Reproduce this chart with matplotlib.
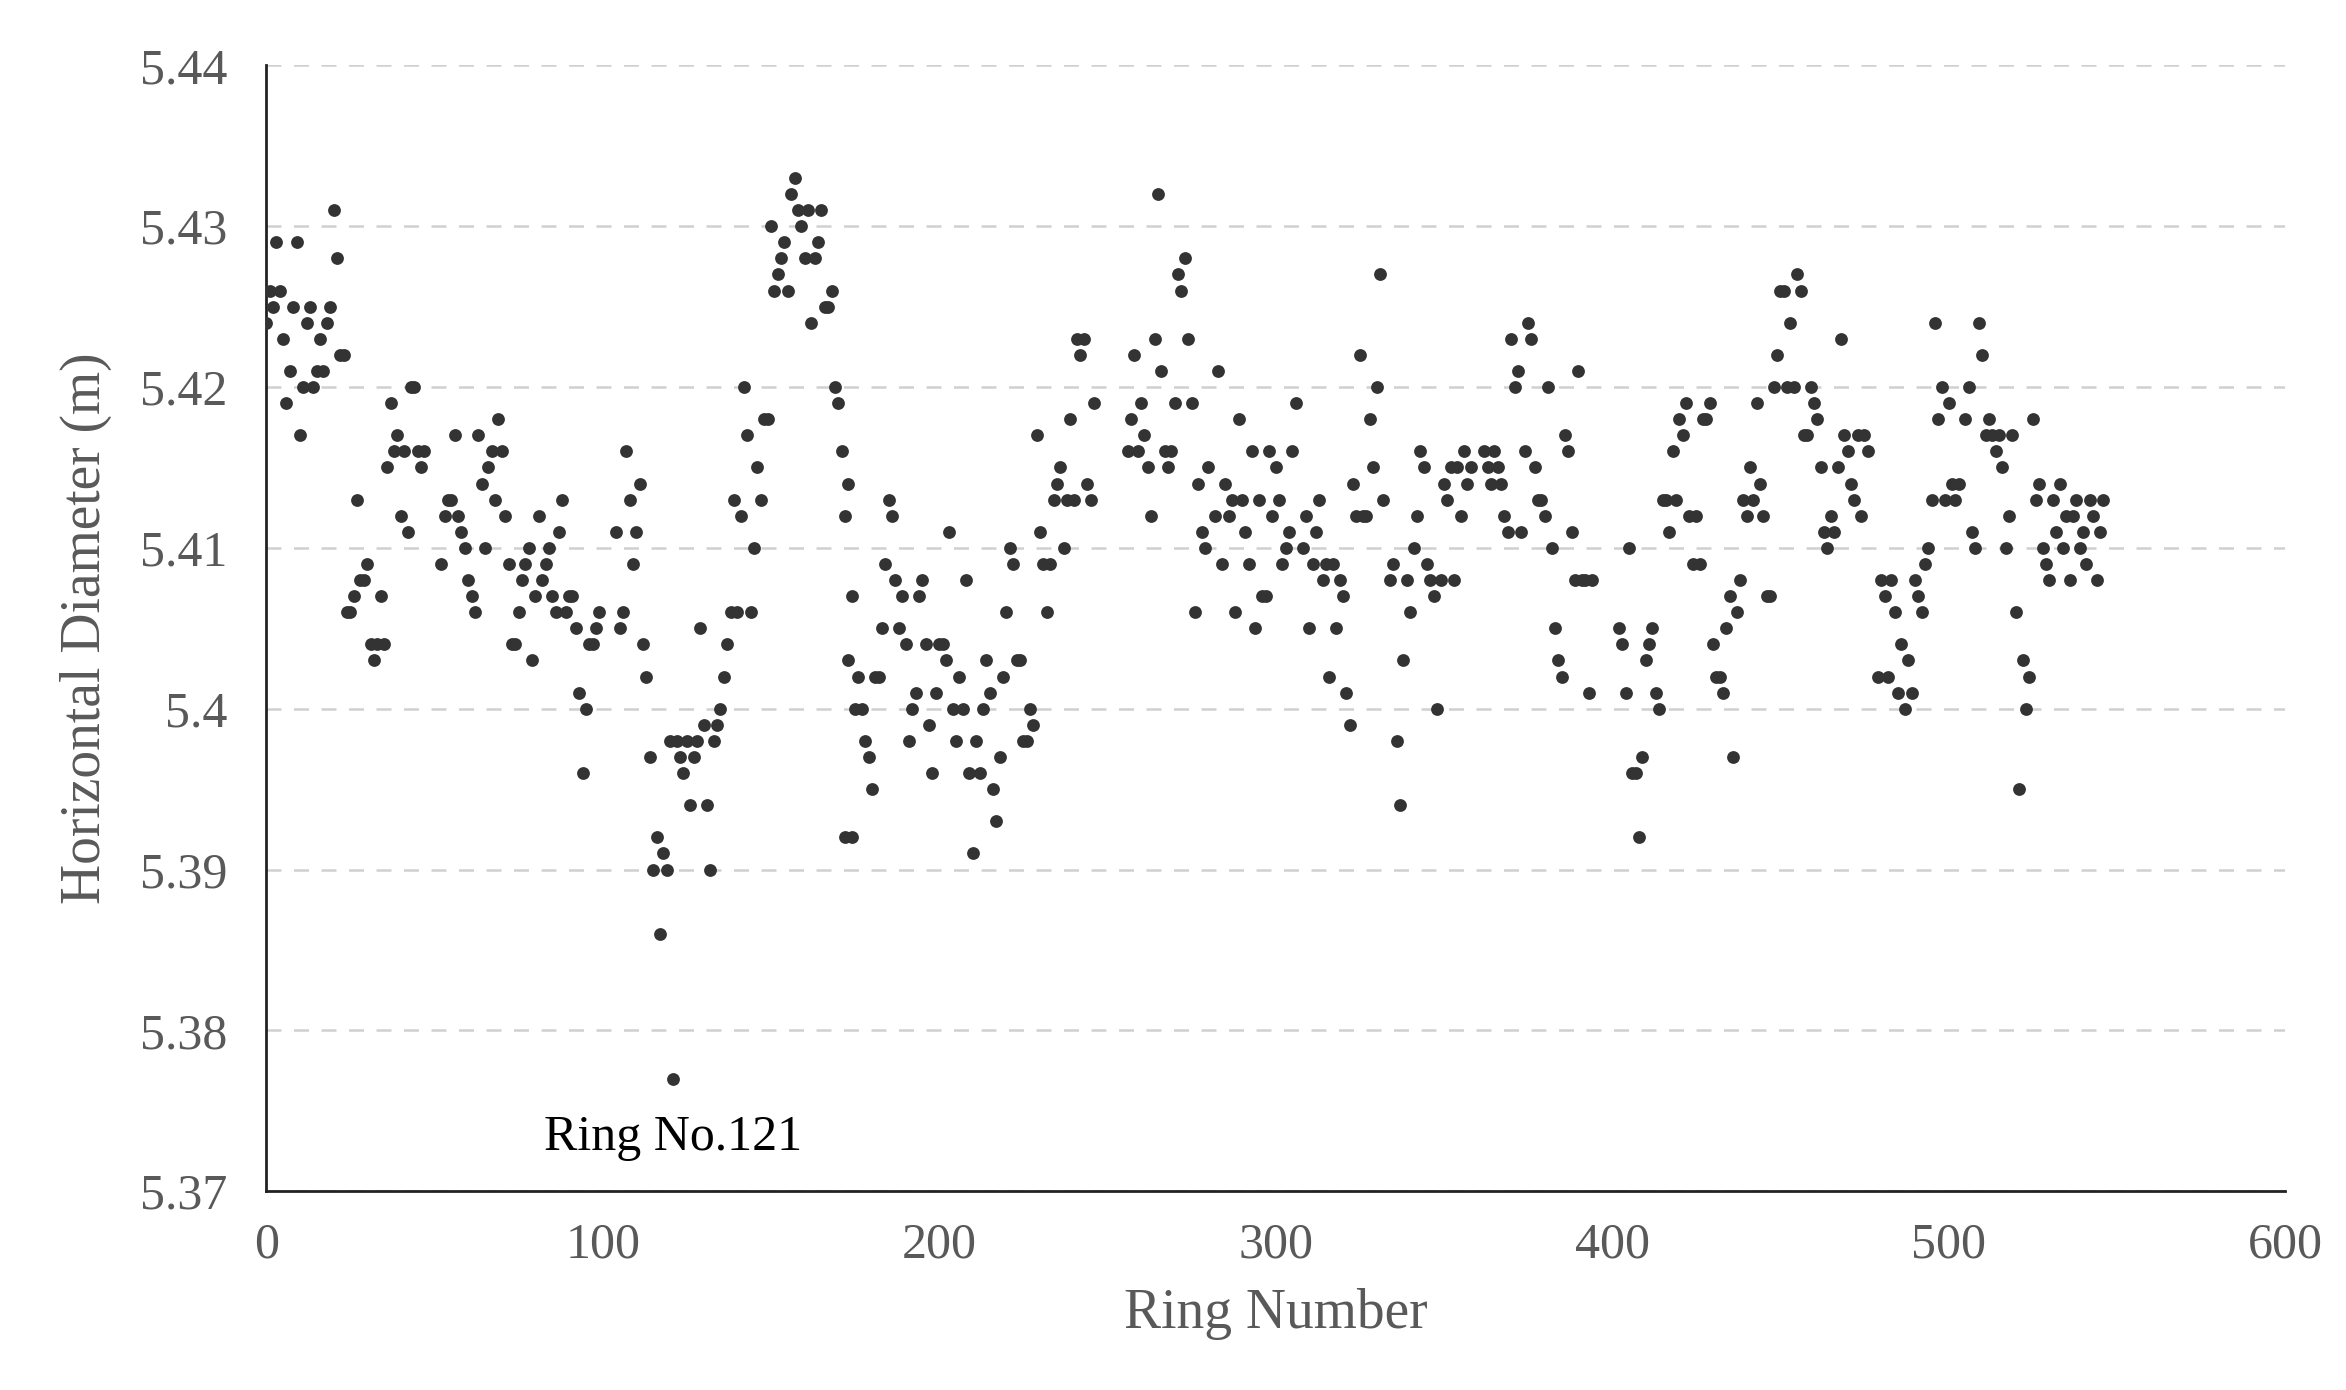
import matplotlib
import numpy as np

matplotlib.use("Agg")
import matplotlib.pyplot as plt

# (first ring number, diameters of consecutive rings)
SEGMENTS = [
    (0, [5.424, 5.426, 5.425, 5.429, 5.426, 5.423, 5.419, 5.421, 5.425, 5.429, 5.417, 5.420,
         5.424, 5.425, 5.420, 5.421, 5.423, 5.421, 5.424, 5.425, 5.431, 5.428, 5.422, 5.422]),
    (24, [5.406, 5.406, 5.407, 5.413, 5.408, 5.408, 5.409, 5.404, 5.403, 5.404, 5.407, 5.404,
          5.415, 5.419, 5.416, 5.417, 5.412, 5.416, 5.411, 5.420, 5.420, 5.416, 5.415, 5.416]),
    (52, [5.409, 5.412, 5.413, 5.413, 5.417, 5.412, 5.411, 5.410, 5.408, 5.407, 5.406, 5.417,
          5.414, 5.410, 5.415, 5.416, 5.413, 5.418, 5.416, 5.412, 5.409, 5.404, 5.404]),
    (75, [5.406, 5.408, 5.409, 5.410, 5.403, 5.407, 5.412, 5.408, 5.409, 5.410, 5.407, 5.406,
          5.411, 5.413, 5.406, 5.407, 5.407, 5.405, 5.401, 5.396, 5.400, 5.404, 5.404, 5.405, 5.406]),
    (104, [5.411, 5.405, 5.406, 5.416, 5.413, 5.409, 5.411, 5.414, 5.404, 5.402, 5.397, 5.390,
           5.392, 5.386, 5.391, 5.390, 5.398, 5.377, 5.398, 5.397, 5.396, 5.398, 5.394, 5.397,
           5.398, 5.405, 5.399, 5.394, 5.390, 5.398, 5.399, 5.400, 5.402, 5.404, 5.406, 5.413,
           5.406, 5.412, 5.420, 5.417, 5.406, 5.410, 5.415, 5.413, 5.418, 5.418]),
    (150, [5.430, 5.426, 5.427, 5.428, 5.429, 5.426, 5.432, 5.433, 5.431, 5.430, 5.428, 5.431,
           5.424, 5.428, 5.429, 5.431, 5.425, 5.425, 5.426, 5.420, 5.419, 5.416, 5.412, 5.414, 5.407]),
    (172, [5.392, 5.403, 5.392, 5.400, 5.402, 5.400, 5.398, 5.397, 5.395, 5.402, 5.402, 5.405,
           5.409, 5.413, 5.412, 5.408, 5.405, 5.407, 5.404, 5.398, 5.400, 5.401, 5.407, 5.408, 5.404]),
    (197, [5.399, 5.396, 5.401, 5.404, 5.404, 5.403, 5.411, 5.400, 5.398, 5.402, 5.400, 5.408,
           5.396, 5.391, 5.398, 5.396, 5.400, 5.403, 5.401, 5.395, 5.393, 5.397, 5.402, 5.406, 5.410]),
    (222, [5.409, 5.403, 5.403, 5.398, 5.398, 5.400, 5.399, 5.417, 5.411, 5.409, 5.406, 5.409,
           5.413, 5.414, 5.415, 5.410, 5.413, 5.418, 5.413, 5.423, 5.422, 5.423, 5.414, 5.413, 5.419]),
    (256, [5.416, 5.418, 5.422, 5.416, 5.419, 5.417, 5.415, 5.412, 5.423, 5.432, 5.421, 5.416,
           5.415, 5.416, 5.419, 5.427, 5.426, 5.428, 5.423, 5.419, 5.406, 5.414, 5.411, 5.410, 5.415]),
    (282, [5.412, 5.421, 5.409, 5.414, 5.412, 5.413, 5.406, 5.418, 5.413, 5.411, 5.409, 5.416,
           5.405, 5.413, 5.407, 5.407, 5.416, 5.412, 5.415, 5.413, 5.409, 5.410, 5.411, 5.416, 5.419]),
    (308, [5.410, 5.412, 5.405, 5.409, 5.411, 5.413, 5.408, 5.409, 5.402, 5.409, 5.405, 5.408,
           5.407, 5.401, 5.399, 5.414, 5.412, 5.422, 5.412, 5.412, 5.418, 5.415, 5.420, 5.427, 5.413]),
    (334, [5.408, 5.409, 5.398, 5.394, 5.403, 5.408, 5.406, 5.410, 5.412, 5.416, 5.415, 5.409,
           5.408, 5.407, 5.400, 5.408, 5.414, 5.413, 5.415, 5.408, 5.415, 5.412, 5.416, 5.414, 5.415]),
    (362, [5.416, 5.415, 5.414, 5.416, 5.415, 5.414, 5.412, 5.411, 5.423, 5.420, 5.421, 5.411,
           5.416, 5.424, 5.423, 5.415, 5.413, 5.413, 5.412, 5.420, 5.410, 5.405, 5.403, 5.402,
           5.417, 5.416, 5.411, 5.408, 5.421, 5.408, 5.408, 5.401, 5.408]),
    (402, [5.405, 5.404, 5.401, 5.410, 5.396, 5.396, 5.392, 5.397, 5.403, 5.404, 5.405, 5.401,
           5.400, 5.413, 5.413, 5.411, 5.416, 5.413, 5.418, 5.417, 5.419, 5.412, 5.409, 5.412, 5.409]),
    (427, [5.418, 5.418, 5.419, 5.404, 5.402, 5.402, 5.401, 5.405, 5.407, 5.397, 5.406, 5.408,
           5.413, 5.412, 5.415, 5.413, 5.419, 5.414, 5.412, 5.407, 5.407, 5.420, 5.422, 5.426, 5.426]),
    (452, [5.420, 5.424, 5.420, 5.427, 5.426, 5.417, 5.417, 5.420, 5.419, 5.418, 5.415, 5.411,
           5.410, 5.412, 5.411, 5.415, 5.423, 5.417, 5.416, 5.414, 5.413, 5.417, 5.412, 5.417, 5.416]),
    (479, [5.402, 5.408, 5.407, 5.402, 5.408, 5.406, 5.401, 5.404, 5.400, 5.403, 5.401, 5.408,
           5.407, 5.406, 5.409, 5.410, 5.413, 5.424, 5.418, 5.420, 5.413, 5.419, 5.414, 5.413, 5.414]),
    (505, [5.418, 5.420, 5.411, 5.410, 5.424, 5.422, 5.417, 5.418, 5.417, 5.416, 5.417, 5.415,
           5.410, 5.412, 5.417, 5.406, 5.395, 5.403, 5.400, 5.402, 5.418, 5.413, 5.414, 5.410,
           5.409, 5.408, 5.413, 5.411, 5.414, 5.410, 5.412, 5.408, 5.412, 5.413, 5.410, 5.411,
           5.409, 5.413, 5.412, 5.408, 5.411, 5.413]),
]

rings = np.concatenate([start + np.arange(len(v)) for start, v in SEGMENTS])
diam = np.concatenate([v for _, v in SEGMENTS])

plt.rcParams["font.family"] = ["Liberation Serif", "DejaVu Serif"]

fig = plt.figure(figsize=(23.46, 13.90), dpi=100)
ax = fig.add_axes([0.1135, 0.143, 0.8605, 0.81])

ax.scatter(rings, diam, s=85, color="#333333", zorder=3, linewidths=0)

ax.set_xlim(0, 600)
ax.set_ylim(5.37, 5.44)
ax.set_xticks(np.arange(0, 601, 100))
ax.set_yticks(np.arange(5.37, 5.4401, 0.01))
ax.set_yticklabels(["5.37", "5.38", "5.39", "5.4", "5.41", "5.42", "5.43", "5.44"])
ax.tick_params(length=0, labelsize=36, colors="#595959")
ax.tick_params(axis="x", pad=22)
ax.tick_params(axis="y", pad=28)
ax.yaxis.grid(True, linestyle=(0, (6, 5)), color="#d0d0d0", linewidth=1.8)
ax.set_axisbelow(True)

for side in ("top", "right"):
    ax.spines[side].set_visible(False)
for side in ("left", "bottom"):
    ax.spines[side].set_color("#222222")
    ax.spines[side].set_linewidth(2.0)

ax.set_xlabel("Ring Number", fontsize=40, color="#595959", labelpad=14)
ax.set_ylabel("Horizontal Diameter (m)", fontsize=40, color="#595959", labelpad=20)

ax.text(121, 5.3733, "Ring No.121", fontsize=36, ha="center", va="center", color="black")

fig.savefig("out.png", dpi=100)
